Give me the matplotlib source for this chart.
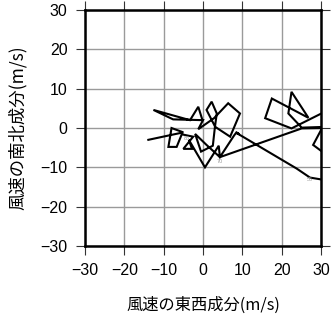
import matplotlib
matplotlib.use("Agg")
import matplotlib.pyplot as plt
import numpy as np

# 風速の東西成分 u と南北成分 v (m/s) — ホドグラフの軌跡
u = [-13.9, -5.0, -8.0, -8.8, -6.7, -5.4, -2.5, -5.0, -2.8, -3.6, 0.5, 4.0,
     4.3, 25.1, 31.0, 31.2, 25.1, 21.7, 22.5, 26.8, 17.5, 15.8, 22.5, 31.5,
     30.6, 28.0, 31.5, 32.0, 27.2, 23.8, 8.6, 9.3, 8.5, 7.9, 4.3,
     0.9, -2.0, -0.5, 2.5, 3.0, 3.5, 2.2, 0.9, 3.1, 6.9, 9.4, 6.4, 2.8,
     -1.2, 0.0, -7.6, -12.6, -3.3, -1.2, -0.2]
v = [-3.0, -1.1, 0.0, -4.8, -4.8, -1.6, -2.2, -5.3, -5.3, -3.0, -10.0, -4.5,
     -7.4, -0.1, 0.0, 0.3, 0.1, 3.7, 9.2, 2.6, 7.5, 2.5, -0.1, 4.4,
     0.6, -4.3, -6.9, -13.4, -12.6, -10.3, -1.3, -1.6, -1.1, -1.9, -7.4,
     -4.3, -1.5, -6.0, -4.5, 0.0, 3.7, 6.7, 4.6, 0.3, -2.2, 3.7, 6.3, 2.5,
     -0.3, 2.0, 2.2, 4.6, 2.0, 5.4, 2.2]

# 軌跡上の小さな注記
label_text = ["85", "70", "55"]
label_u = [-4.2, 4.3, 27.2]
label_v = [-2.6, -8.6, -13.0]

ticks = [-30, -20, -10, 0, 10, 20, 30]

plt.rcParams['font.family'] = ['Liberation Sans', 'Noto Sans CJK JP', 'DejaVu Sans']

fig = plt.figure(figsize=(3.31, 3.18), dpi=100)
ax = fig.add_axes([0.2568, 0.2264, 0.713, 0.742])

ax.set_xlim(-30, 30)
ax.set_ylim(-30, 30)
ax.set_xticks(ticks)
ax.set_yticks(ticks)
ax.set_xticklabels([str(t).replace('-', '\u2212') for t in ticks])
ax.set_yticklabels([str(t).replace('-', '\u2212') for t in ticks])
ax.grid(True, color='#9a9a9a', linewidth=1.0)
ax.set_axisbelow(True)

ax.plot(u, v, color='black', linewidth=1.5, solid_joinstyle='miter')

for t, x, y in zip(label_text, label_u, label_v):
    ax.text(x, y, t, fontsize=4, color='#9a9a9a', ha='center', va='center')

for s in ax.spines.values():
    s.set_linewidth(1.8)
    s.set_color('black')

ax.tick_params(which='both', direction='out', length=6.5, width=0.8,
               top=True, right=True, labelsize=11.5, color='#333333')
ax.tick_params(axis='x', pad=6)
ax.tick_params(axis='y', pad=6)

ax.set_xlabel('風速の東西成分(m/s)', fontsize=11.7,
              family=['Noto Sans CJK JP', 'DejaVu Sans'], labelpad=13)
ax.set_ylabel('風速の南北成分(m/s)', fontsize=12.5,
              family=['Noto Sans CJK JP', 'DejaVu Sans'], labelpad=10)

fig.savefig('out.png', dpi=100)
